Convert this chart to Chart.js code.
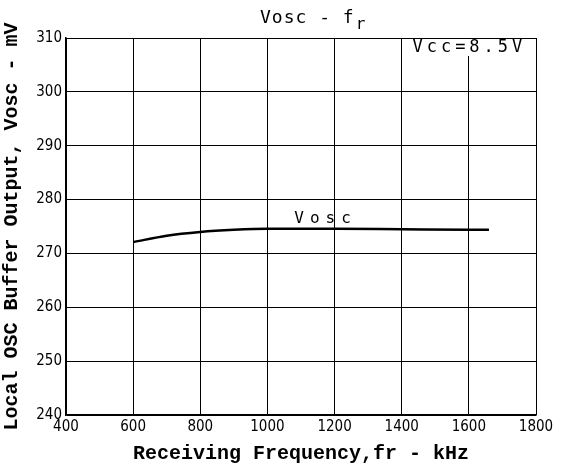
<!DOCTYPE html>
<html>
<head>
<meta charset="utf-8">
<script src="https://cdn.jsdelivr.net/npm/chart.js@4"></script>
<style>
  html, body { margin: 0; padding: 0; background: #fff; }
  #wrap { width: 561px; height: 468px; }
</style>
</head>
<body>
<div id="wrap"><canvas id="c"></canvas></div>
<script>
// values
const freqKHz = [600, 700, 800, 900, 1000, 1200, 1400, 1600, 1660];
const voscMV = [272.1, 273.3, 274.0, 274.4, 274.6, 274.6, 274.5, 274.4, 274.4];
const xTicks = [400, 600, 800, 1000, 1200, 1400, 1600, 1800];
const yTicks = [240, 250, 260, 270, 280, 290, 300, 310];

// labels drawn on the plot
const annot = {
  id: 'annot',
  afterDraw(chart) {
    const { ctx, chartArea: a, scales: { x, y } } = chart;
    ctx.save();
    ctx.fillStyle = '#000';
    ctx.textBaseline = 'alphabetic';
    // title with subscript r
    ctx.font = '18px "DejaVu Sans Mono"';
    ctx.letterSpacing = '1px';
    ctx.textAlign = 'left';
    const t = 'Vosc - f';
    const tw = ctx.measureText(t).width;
    const tx = 260;
    ctx.fillText(t, tx, 23);
    ctx.font = '16px "DejaVu Sans Mono"';
    ctx.fillText('r', tx + tw + 1, 29);
    // supply voltage note
    const bx = x.getPixelForValue(1420);
    ctx.fillStyle = '#fff';
    ctx.fillRect(bx, a.top + 1, a.right - bx - 1, 17);
    ctx.fillStyle = '#000';
    ctx.font = '17px "DejaVu Sans Mono"';
    ctx.letterSpacing = '4px';
    ctx.textAlign = 'left';
    ctx.fillText('Vcc=8.5V', bx + 4, a.top + 14);
    // curve label
    ctx.font = '16px "DejaVu Sans Mono"';
    ctx.letterSpacing = '6px';
    ctx.fillText('Vosc', x.getPixelForValue(1080), y.getPixelForValue(275.6));
    ctx.restore();
  }
};

new Chart(document.getElementById('c'), {
  type: 'line',
  data: {
    datasets: [{
      label: 'Vosc',
      data: freqKHz.map((f, i) => ({ x: f, y: voscMV[i] })),
      borderColor: '#000',
      borderWidth: 2.5,
      pointRadius: 0,
      cubicInterpolationMode: 'monotone'
    }]
  },
  options: {
    responsive: true,
    maintainAspectRatio: false,
    animation: false,
    layout: { padding: { left: 0, top: 38, right: 25, bottom: 0 } },
    plugins: { legend: { display: false }, tooltip: { enabled: false } },
    scales: {
      x: {
        type: 'linear', min: 400, max: 1800,
        afterBuildTicks: s => { s.ticks = xTicks.map(v => ({ value: v })); },
        afterFit: s => { s.height = 53; },
        grid: { color: '#000', lineWidth: 1, drawTicks: false },
        border: { color: '#000', width: 1.5 },
        ticks: {
          color: '#000', padding: 3, maxRotation: 0,
          callback: v => String(v),
          font: { family: 'DejaVu Sans Condensed', size: 15 }
        },
        title: {
          display: true, text: 'Receiving Frequency,fr - kHz', color: '#000', padding: { top: 0, bottom: 2 },
          font: { family: 'Liberation Mono', size: 20, weight: 'bold' }
        }
      },
      y: {
        min: 240, max: 310,
        afterBuildTicks: s => { s.ticks = yTicks.map(v => ({ value: v })); },
        afterFit: s => { s.width = 66; },
        grid: { color: '#000', lineWidth: 1, drawTicks: false },
        border: { color: '#000', width: 1.5 },
        ticks: {
          color: '#000', padding: 4,
          callback: v => String(v),
          font: { family: 'DejaVu Sans Condensed', size: 15 }
        },
        title: {
          display: true, text: 'Local OSC Buffer Output, Vosc - mV', color: '#000', padding: { top: 0, bottom: 4 },
          font: { family: 'Liberation Mono', size: 20, weight: 'bold' }
        }
      }
    }
  },
  plugins: [annot]
});
</script>
</body>
</html>
